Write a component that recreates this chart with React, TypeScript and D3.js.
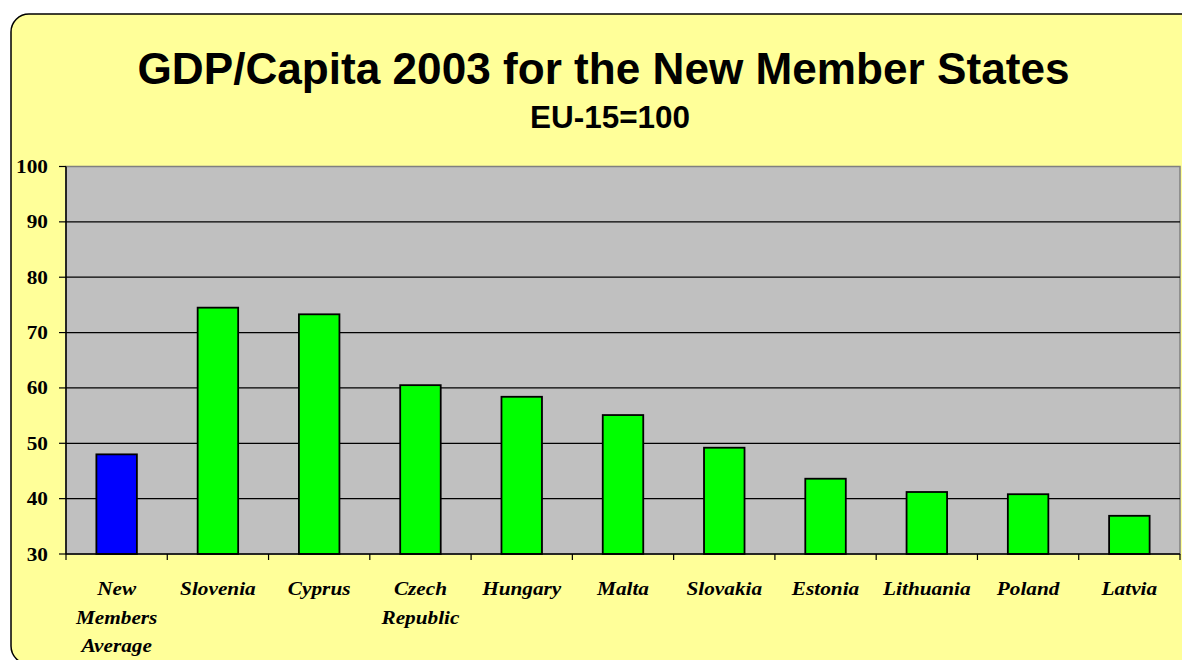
import React from "react";
import * as d3 from "d3";

const categories: string[][] = [
  ["New", "Members", "Average"],
  ["Slovenia"],
  ["Cyprus"],
  ["Czech", "Republic"],
  ["Hungary"],
  ["Malta"],
  ["Slovakia"],
  ["Estonia"],
  ["Lithuania"],
  ["Poland"],
  ["Latvia"],
];
const values: number[] = [48.0, 74.5, 73.3, 60.5, 58.4, 55.1, 49.2, 43.6, 41.2, 40.8, 36.9];
const yTicks: number[] = [30, 40, 50, 60, 70, 80, 90, 100];
const title = "GDP/Capita 2003 for the New Member States";
const subtitle = "EU-15=100";

const W = 1182;
const H = 660;
const plot = { left: 66, right: 1180, top: 166.5, bottom: 554 };

export default function App() {
  const keys = categories.map((c) => c.join(" "));
  const x = d3
    .scaleBand<string>()
    .domain(keys)
    .range([plot.left, plot.right])
    .paddingInner(0.6)
    .paddingOuter(0.3);
  const y = d3.scaleLinear().domain([30, 100]).range([plot.bottom, plot.top]);
  const step = x.step();
  const boundaries = d3.range(keys.length + 1).map((i) => plot.left + i * step);

  return (
    <svg
      width={W}
      height={H}
      style={{ position: "absolute", left: 0, top: 0, background: "#fff" }}
    >
      {/* rounded chart panel */}
      <rect x={11} y={14} width={1200} height={650} rx={18} ry={18} fill="#FFFF99" stroke="#000" strokeWidth={1.5} />

      <text
        x={603.5}
        y={84}
        textAnchor="middle"
        fontFamily="'Liberation Sans', Arial, sans-serif"
        fontWeight="bold"
        fontSize={45}
        textLength={932}
        lengthAdjust="spacingAndGlyphs"
      >
        {title}
      </text>
      <text
        x={610}
        y={128}
        textAnchor="middle"
        fontFamily="'Liberation Sans', Arial, sans-serif"
        fontWeight="bold"
        fontSize={31}
        textLength={160}
        lengthAdjust="spacingAndGlyphs"
      >
        {subtitle}
      </text>

      {/* plot area */}
      <rect
        x={plot.left}
        y={plot.top}
        width={plot.right - plot.left}
        height={plot.bottom - plot.top}
        fill="#C0C0C0"
        stroke="#808080"
        strokeWidth={1.5}
      />
      {yTicks
        .filter((t) => t > 30 && t < 100)
        .map((t) => (
          <line key={t} x1={plot.left} x2={plot.right} y1={y(t)} y2={y(t)} stroke="#000" strokeWidth={1.2} />
        ))}

      {/* bars */}
      {values.map((v, i) => (
        <rect
          key={keys[i]}
          x={x(keys[i])!}
          y={y(v)}
          width={x.bandwidth()}
          height={y(30) - y(v)}
          fill={i === 0 ? "#0000FF" : "#00FF00"}
          stroke="#000"
          strokeWidth={1.8}
        />
      ))}

      {/* axes */}
      <line x1={plot.left} x2={plot.left} y1={plot.top} y2={plot.bottom} stroke="#000" strokeWidth={1.5} />
      <line x1={plot.left} x2={plot.right} y1={plot.bottom} y2={plot.bottom} stroke="#000" strokeWidth={1.5} />
      {yTicks.map((t) => (
        <g key={t}>
          <line x1={plot.left - 7} x2={plot.left} y1={y(t)} y2={y(t)} stroke="#000" strokeWidth={1.2} />
          <text
            transform={`translate(48,${y(t) + 6.5}) scale(1.12,1)`}
            textAnchor="end"
            fontFamily="'Liberation Serif', 'Times New Roman', serif"
            fontWeight="bold"
            fontSize={19}
          >
            {t}
          </text>
        </g>
      ))}
      {boundaries.map((bx, i) => (
        <line key={i} x1={bx} x2={bx} y1={plot.bottom} y2={plot.bottom + 6} stroke="#000" strokeWidth={1.2} />
      ))}
      {categories.map((lines, i) => {
        const cx = x(keys[i])! + x.bandwidth() / 2;
        return lines.map((ln, j) => (
          <text
            key={keys[i] + j}
            transform={`translate(${cx},${595 + j * 28.5}) scale(1.15,1)`}
            textAnchor="middle"
            fontFamily="'Liberation Serif', 'Times New Roman', serif"
            fontWeight="bold"
            fontStyle="italic"
            fontSize={18.5}
          >
            {ln}
          </text>
        ));
      })}
    </svg>
  );
}
